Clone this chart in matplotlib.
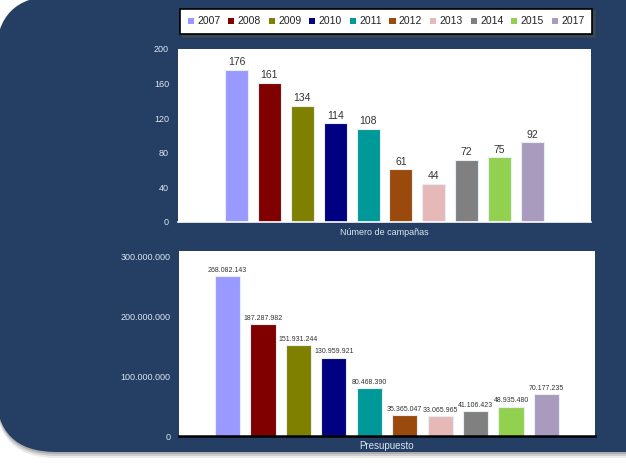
import matplotlib.pyplot as plt
from matplotlib.patches import FancyBboxPatch, Patch
from matplotlib.ticker import FuncFormatter

plt.rcParams['font.family'] = ['Liberation Sans', 'DejaVu Sans']

# datos
anios = ['2007', '2008', '2009', '2010', '2011', '2012', '2013', '2014', '2015', '2017']
campanas = [176, 161, 134, 114, 108, 61, 44, 72, 75, 92]
presupuesto = [268082143, 187287982, 151931244, 130959921, 80468390,
               35365047, 33065965, 41106423, 48935480, 70177235]
colores = ['#9999ff', '#800000', '#808000', '#000080', '#009999',
           '#9a4a0c', '#e6b9b8', '#808080', '#92d050', '#a99bbd']

fondo = '#243f63'
txt_claro = '#dce6f2'


def puntos(v, pos=None):
    return f'{int(v):,}'.replace(',', '.')


W, H = 626, 463
fig = plt.figure(figsize=(W / 100, H / 100), dpi=100)
fig.patch.set_facecolor('white')

# fondo azul redondeado con sombra
bg = fig.add_axes([0, 0, 1, 1])
bg.set_xlim(0, W)
bg.set_ylim(H, 0)
bg.axis('off')
for off, a in [(6, 0.12), (4, 0.2), (2, 0.3)]:
    bg.add_patch(FancyBboxPatch((-4, -4 + off), 720, 456, boxstyle='round,pad=0,rounding_size=60',
                                facecolor='#606060', edgecolor='none', alpha=a))
bg.add_patch(FancyBboxPatch((-4, -4), 720, 456, boxstyle='round,pad=0,rounding_size=60',
                            facecolor=fondo, edgecolor='none'))

x = list(range(len(anios)))

# grafico superior: numero de campanas
ax1 = fig.add_axes([178 / W, 1 - 222 / H, 413 / W, 173 / H])
ax1.set_facecolor('white')
ax1.bar(x, campanas, width=0.7, color=colores, edgecolor='#e8eef6', linewidth=0.8)
for i, v in enumerate(campanas):
    ax1.text(i, v + 3, str(v), ha='center', va='bottom', fontsize=7.5, color='#333333')
ax1.set_xlim(-1.78, 9 + 1.78)
ax1.set_ylim(0, 200)
ax1.set_yticks(range(0, 201, 40))
ax1.set_xticks([])
ax1.tick_params(axis='y', length=0, labelsize=6.5, labelcolor=txt_claro, pad=6.5)
for s in ['top', 'right', 'left']:
    ax1.spines[s].set_visible(False)
ax1.spines['bottom'].set_color('white')
ax1.spines['bottom'].set_linewidth(1.2)
ax1.set_xlabel('Número de campañas', fontsize=6.5, color=txt_claro, labelpad=4)

# grafico inferior: presupuesto
ax2 = fig.add_axes([179 / W, 1 - 436 / H, 416 / W, 185 / H])
ax2.set_facecolor('white')
ax2.bar(x, presupuesto, width=0.71, color=colores, edgecolor='#e8eef6', linewidth=0.8)
for i, v in enumerate(presupuesto):
    ax2.text(i, v + 4e6, puntos(v), ha='center', va='bottom', fontsize=5, color='#333333')
ax2.set_xlim(-1.37, 9 + 1.37)
ax2.set_ylim(0, 310e6)
ax2.set_yticks([0, 100e6, 200e6, 300e6])
ax2.yaxis.set_major_formatter(FuncFormatter(puntos))
ax2.set_xticks([])
ax2.tick_params(axis='y', length=0, labelsize=6.5, labelcolor=txt_claro, pad=6)
for s in ['top', 'right', 'left']:
    ax2.spines[s].set_visible(False)
ax2.spines['bottom'].set_color('black')
ax2.spines['bottom'].set_linewidth(1.8)
ax2.set_xlabel('Presupuesto', fontsize=7, color=txt_claro, labelpad=3.5)

# leyenda
handles = [Patch(facecolor=c, edgecolor='none') for c in colores]
leg = fig.legend(handles, anios, loc='center', ncol=10, mode='expand',
                 bbox_to_anchor=(180 / W, 1 - 34 / H, 412 / W, 25 / H),
                 fontsize=7.5, handlelength=0.6, handleheight=0.6, handletextpad=0.3,
                 columnspacing=0.8, borderpad=0.75, fancybox=False, shadow=True,
                 borderaxespad=0)
leg.get_frame().set_edgecolor('black')
leg.get_frame().set_linewidth(1.2)
for t in leg.get_texts():
    t.set_color('#222222')

fig.savefig('out.png', dpi=100, facecolor='white')
